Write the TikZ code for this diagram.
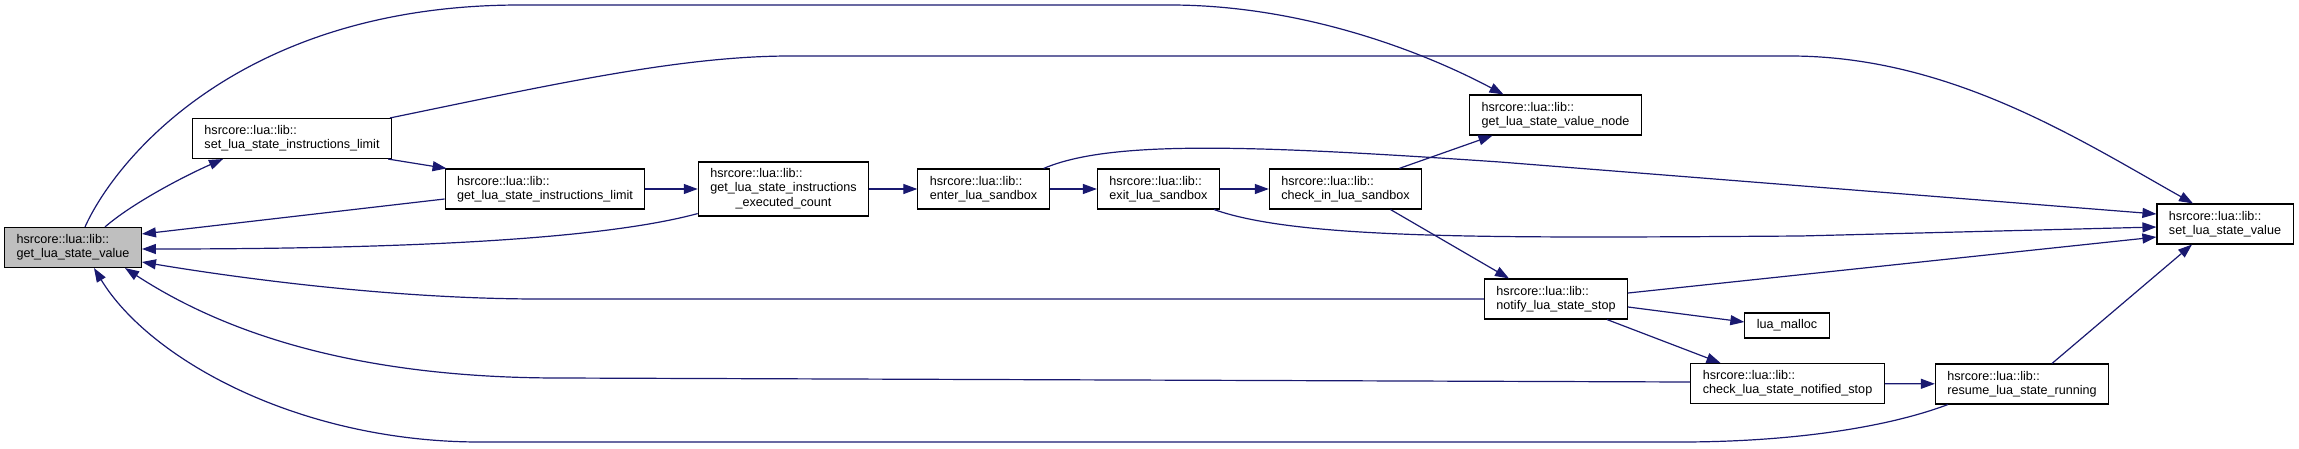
\documentclass[tikz,border=0pt]{standalone}
\usepackage{fontspec}
\setmainfont{Liberation Sans}
\usetikzlibrary{arrows.meta}
\definecolor{callcol}{RGB}{25,25,112}
\definecolor{curfill}{RGB}{191,191,191}

\begin{document}
\begin{tikzpicture}[
  x=1pt,y=-1pt,
  font=\fontsize{12.6}{14.3}\selectfont,
  func/.style={rectangle,draw=black,line width=1.1pt,fill=white,align=left,inner xsep=12pt,inner ysep=0pt,minimum height=40pt},
  curfunc/.style={func,fill=curfill},
  call/.style={-{Triangle[length=14pt,width=10pt]},line width=1.2pt,callcol},
]
\useasboundingbox (0,0) rectangle (2299,448);
% nodes
\node[curfunc] (gv) at (73,247.5) {hsrcore::lua::lib::\\get\_lua\_state\_value};
\node[func] (setlim) at (292,138.5) {hsrcore::lua::lib::\\set\_lua\_state\_instructions\_limit};
\node[func] (getlim) at (545,189) {hsrcore::lua::lib::\\get\_lua\_state\_instructions\_limit};
\node[func,minimum height=54pt] (execnt) at (783.5,189) {\begin{tabular}{@{}l@{}}hsrcore::lua::lib::\\get\_lua\_state\_instructions\\\multicolumn{1}{@{}c@{}}{\_executed\_count}\end{tabular}};
\node[func] (enter) at (983.5,189) {hsrcore::lua::lib::\\enter\_lua\_sandbox};
\node[func] (exit) at (1158.5,189) {hsrcore::lua::lib::\\exit\_lua\_sandbox};
\node[func] (checkin) at (1345.5,189) {hsrcore::lua::lib::\\check\_in\_lua\_sandbox};
\node[func] (valnode) at (1555.5,115) {hsrcore::lua::lib::\\get\_lua\_state\_value\_node};
\node[func] (setval) at (2225,224) {hsrcore::lua::lib::\\set\_lua\_state\_value};
\node[func] (notify) at (1556,299) {hsrcore::lua::lib::\\notify\_lua\_state\_stop};
\node[func,minimum height=25pt] (malloc) at (1787,325.5) {lua\_malloc};
\node[func] (chkstop) at (1787.5,383.5) {hsrcore::lua::lib::\\check\_lua\_state\_notified\_stop};
\node[func] (resume) at (2022,384) {hsrcore::lua::lib::\\resume\_lua\_state\_running};
% calls
\draw[call] ([xshift=32]gv.north) .. controls (130,205) and (180,178) .. ([xshift=-69]setlim.south);
\draw[call] ([xshift=12]gv.north) .. controls (115,160) and (240,5) .. (520,5) -- (1170,5)
  .. controls (1300,5) and (1420,50) .. ([xshift=-52]valnode.north);
\draw[call] ([xshift=98]setlim.north) .. controls (550,85) and (680,56) .. (790,56) -- (1790,56)
  .. controls (1950,56) and (2080,140) .. ([xshift=-32]setval.north);
\draw[call] ([xshift=-4]setlim.south east) -- ([xshift=2]getlim.north west);
\draw[call] ([yshift=-10]getlim.west) -- ([yshift=13.5]gv.east);
\draw[call] (getlim) -- (execnt);
\draw[call] ([yshift=3]execnt.south west) .. controls (600,240) and (400,249) .. ([yshift=-1.5]gv.east);
\draw[call] (execnt) -- (enter);
\draw[call] (enter) -- (exit);
\draw[call] (exit) -- (checkin);
\draw[call] ([xshift=-6]enter.north east) .. controls (1110,140) and (1250,145) .. (1500,162) -- ([yshift=10]setval.west);
\draw[call] ([xshift=-6]exit.south east) .. controls (1300,240) and (1500,238) .. (1800,236) -- ([yshift=-3]setval.west);
\draw[call] ([xshift=-23]checkin.north east) -- ([xshift=-63]valnode.south);
\draw[call] ([xshift=45]checkin.south) -- ([xshift=-47]notify.north);
\draw[call] (notify.west) -- (540,299) .. controls (400,299) and (250,280) .. ([yshift=-14.5]gv.east);
\draw[call] ([yshift=6]notify.east) -- ([yshift=-13]setval.west);
\draw[call] ([yshift=-8]notify.east) -- ([yshift=3.5]malloc.west);
\draw[call] ([xshift=51]notify.south) -- ([xshift=-67]chkstop.north);
\draw[call] ([yshift=1.5]chkstop.west) -- (560,378) .. controls (350,378) and (220,330) .. ([xshift=52]gv.south);
\draw[call] (chkstop) -- (resume);
\draw[call] ([xshift=30]resume.north) -- ([xshift=-33]setval.south);
\draw[call] ([xshift=13]resume.south west) .. controls (1880,430) and (1780,442) .. (1680,442) -- (480,442)
  .. controls (300,442) and (150,360) .. ([xshift=21]gv.south);
\end{tikzpicture}
\end{document}
